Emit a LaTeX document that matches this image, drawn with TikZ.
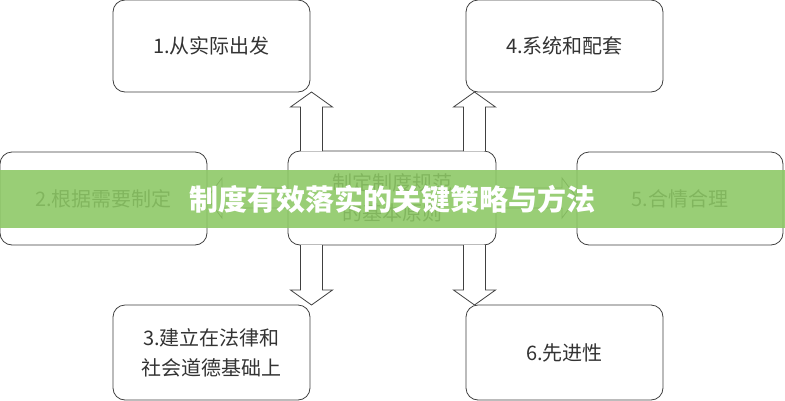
\documentclass[tikz,border=0pt]{standalone}
\usepackage{fontspec}
\newfontfamily\cjk{Noto Sans CJK SC}
\definecolor{banner}{RGB}{140,200,100}
\begin{document}
\begin{tikzpicture}[x=1pt,y=-1pt,
  box/.style={draw=black!75,line width=0.8pt,rounded corners=12pt,fill=white,align=center,font=\cjk\fontsize{20}{30}\selectfont,text=black!80},
  barrow/.style={draw=black!75,line width=0.8pt,fill=white}]
\useasboundingbox (0,0) rectangle (785,400);
\fill[white] (0,0) rectangle (785,400);
\node[box,minimum width=197pt,minimum height=92pt] (b1) at (211.5,46) {1.从实际出发};
\node[box,minimum width=197pt,minimum height=92pt] (b4) at (564.5,46) {4.系统和配套};
\node[box,minimum width=207pt,minimum height=93pt] (b2) at (103.5,198.5) {2.根据需要制定};
\node[box,minimum width=208pt,minimum height=94pt] (c) at (392,198) {制定制度规范\\的基本原则};
\node[box,minimum width=206pt,minimum height=93pt] (b5) at (680,198.5) {5.合情合理};
\node[box,minimum width=197pt,minimum height=95pt] (b3) at (211.5,352.5) {3.建立在法律和\\社会道德基础上};
\node[box,minimum width=197pt,minimum height=95pt] (b6) at (564.5,352.5) {6.先进性};
\foreach \cx in {311.5,474.5}{
  \draw[barrow] (\cx-11,151) -- (\cx-11,107) -- (\cx-21,107) -- (\cx,92) -- (\cx+21,107) -- (\cx+11,107) -- (\cx+11,151);
  \draw[barrow] (\cx-11,245) -- (\cx-11,290) -- (\cx-21,290) -- (\cx,305) -- (\cx+21,290) -- (\cx+11,290) -- (\cx+11,245);
}
\draw[barrow] (288,188) -- (222,188) -- (222,178) -- (207,198) -- (222,218) -- (222,208) -- (288,208);
\draw[barrow] (496,188) -- (562,188) -- (562,178) -- (577,198) -- (562,218) -- (562,208) -- (496,208);
\fill[banner,fill opacity=0.88] (0,170) rectangle (785,228);
\node[font=\cjk\bfseries\fontsize{29}{34}\selectfont,text=white] (t) at (392,199) {制度有效落实的关键策略与方法};
\end{tikzpicture}
\end{document}
